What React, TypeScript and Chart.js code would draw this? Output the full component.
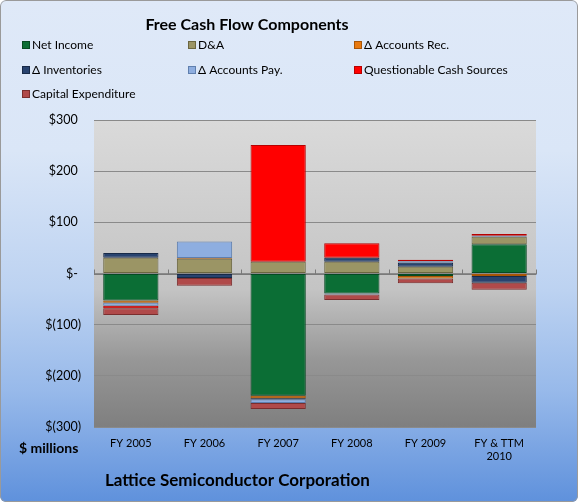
import React, { useEffect, useRef } from "react";
import { Chart, registerables } from "chart.js";
Chart.register(...registerables);

const categories: (string | string[])[] = ["FY 2005", "FY 2006", "FY 2007", "FY 2008", "FY 2009", ["FY & TTM", "2010"]];
const netIncome = [-53, 0, -239, -39, -5, 57];
const depreciation = [31, 29, 23, 23, 13, 15];
const accountsRec = [-4, 1.5, -5, 0, -5, -5];
const inventories = [9, -9, -2, 8, 8, -13];
const accountsPay = [-6, 32, -7, -2, 3, 2];
const questionable = [-5, 0, 228, 28, 3, 3];
const capex = [-13, -15, -12, -11, -9, -14];

const seriesNames = ["Net Income", "D&A", "\u0394 Accounts Rec.", "\u0394 Inventories", "\u0394 Accounts Pay.", "Questionable Cash Sources", "Capital Expenditure"];
const seriesValues = [netIncome, depreciation, accountsRec, inventories, accountsPay, questionable, capex];
const seriesColors = ["#0b6e35", "#9b9565", "#e8790f", "#28436f", "#8eaee0", "#ff0000", "#b04a4a"];
const seriesBorders = ["#064a22", "#6b6640", "#a85506", "#182a48", "#5f7fae", "#b80000", "#7a2e2e"];

const chartTitle = "Free Cash Flow Components";
const unitLabel = "$ millions";
const companyLabel = "Lattice Semiconductor Corporation";
const yMin = -300;
const yMax = 300;
const yStep = 100;

const FONT = "Lato, 'Open Sans', sans-serif";

function fmtTick(v: number): string {
  if (v === 0) return "$- ";
  if (v > 0) return "$" + v + " ";
  return "$(" + -v + ")";
}

const decorPlugin = {
  id: "decor",
  beforeDraw(chart: any) {
    const { ctx, chartArea } = chart;
    const g = ctx.createLinearGradient(0, chartArea.top, 0, chartArea.bottom);
    g.addColorStop(0, "#dadada");
    g.addColorStop(0.55, "#c4c4c4");
    g.addColorStop(0.78, "#979797");
    g.addColorStop(1, "#7f7f7f");
    ctx.save();
    ctx.fillStyle = g;
    ctx.fillRect(chartArea.left, chartArea.top, chartArea.right - chartArea.left, chartArea.bottom - chartArea.top);
    ctx.restore();
  },
  beforeDatasetsDraw(chart: any) {
    const { ctx, chartArea, scales } = chart;
    const y0 = scales.y.getPixelForValue(0);
    const n = categories.length;
    ctx.save();
    ctx.strokeStyle = "#7a7a7a";
    ctx.lineWidth = 1;
    ctx.beginPath();
    ctx.moveTo(chartArea.left, Math.round(y0) + 0.5);
    ctx.lineTo(chartArea.right, Math.round(y0) + 0.5);
    for (let i = 0; i <= n; i++) {
      const x = chartArea.left + ((chartArea.right - chartArea.left) * i) / n;
      ctx.moveTo(Math.round(x) + 0.5, Math.round(y0) + 0.5);
      ctx.lineTo(Math.round(x) + 0.5, Math.round(y0) - 4.5);
    }
    ctx.stroke();
    ctx.restore();
  },
  afterDraw(chart: any) {
    const { ctx } = chart;
    ctx.save();
    ctx.fillStyle = "#000";
    ctx.textBaseline = "middle";
    ctx.textAlign = "center";
    ctx.font = "bold 16px " + FONT;
    ctx.fillText(chartTitle, 247, 25);

    ctx.textAlign = "left";
    ctx.font = "12px " + FONT;
    const colX = [22, 188, 354];
    const rowY = [45, 70, 94];
    seriesNames.forEach((name, i) => {
      const cx = colX[i % 3];
      const cy = rowY[Math.floor(i / 3)];
      ctx.fillStyle = seriesColors[i];
      ctx.fillRect(cx, cy - 4, 8, 8);
      ctx.strokeStyle = seriesBorders[i];
      ctx.lineWidth = 1;
      ctx.strokeRect(cx + 0.5, cy - 3.5, 7, 7);
      ctx.fillStyle = "#000";
      ctx.fillText(name, cx + 10, cy);
    });

    ctx.font = "bold 14px " + FONT;
    ctx.textAlign = "left";
    ctx.fillText(unitLabel, 19, 448);

    ctx.font = "bold 17px " + FONT;
    ctx.fillText(companyLabel, 105, 481);
    ctx.restore();
  },
};

export default function App() {
  const canvasRef = useRef<HTMLCanvasElement | null>(null);

  useEffect(() => {
    if (!canvasRef.current) return;
    const chart = new Chart(canvasRef.current, {
      type: "bar",
      data: {
        labels: categories as any,
        datasets: seriesNames.map((name, i) => ({
          label: name,
          data: seriesValues[i],
          backgroundColor: seriesColors[i],
          borderColor: seriesBorders[i],
          borderWidth: 1,
          borderSkipped: false,
          categoryPercentage: 1,
          barPercentage: 0.75,
        })),
      },
      options: {
        responsive: false,
        animation: false,
        layout: { padding: { top: 120, right: 42, left: 0, bottom: 0 } },
        plugins: {
          legend: { display: false },
          title: { display: false },
          tooltip: { enabled: false },
        },
        scales: {
          x: {
            stacked: true,
            grid: { display: false, drawTicks: false },
            border: { display: false },
            ticks: {
              color: "#000",
              font: { family: FONT, size: 11 },
              padding: 10,
              maxRotation: 0,
              autoSkip: false,
            },
            afterFit: (s: any) => {
              s.height = 75;
            },
          },
          y: {
            stacked: true,
            min: yMin,
            max: yMax,
            grid: { color: "#8a8a8a", lineWidth: 1, drawTicks: false },
            border: { display: false },
            ticks: {
              stepSize: yStep,
              color: "#000",
              font: { family: FONT, size: 12.5 },
              padding: 13,
              callback: (v: any) => fmtTick(Number(v)),
            },
            afterFit: (s: any) => {
              s.width = 94;
            },
          },
        },
      },
      plugins: [decorPlugin],
    });
    return () => chart.destroy();
  }, []);

  return (
    <div
      style={{
        position: "fixed",
        left: 0,
        top: 0,
        width: 578,
        height: 502,
        background: "linear-gradient(to bottom, #dfe9f8 0%, #dae6f7 30%, #bcd2f1 58%, #97b9ea 78%, #5f91dc 100%)",
        borderRadius: 6,
        overflow: "hidden",
      }}
    >
      <canvas ref={canvasRef} width={578} height={502} style={{ position: "absolute", left: 0, top: 0 }} />
      <div
        style={{
          position: "absolute",
          left: 0,
          top: 0,
          width: 578,
          height: 502,
          boxSizing: "border-box",
          border: "1px solid #9a9a9a",
          borderRadius: 6,
          pointerEvents: "none",
        }}
      />
    </div>
  );
}
